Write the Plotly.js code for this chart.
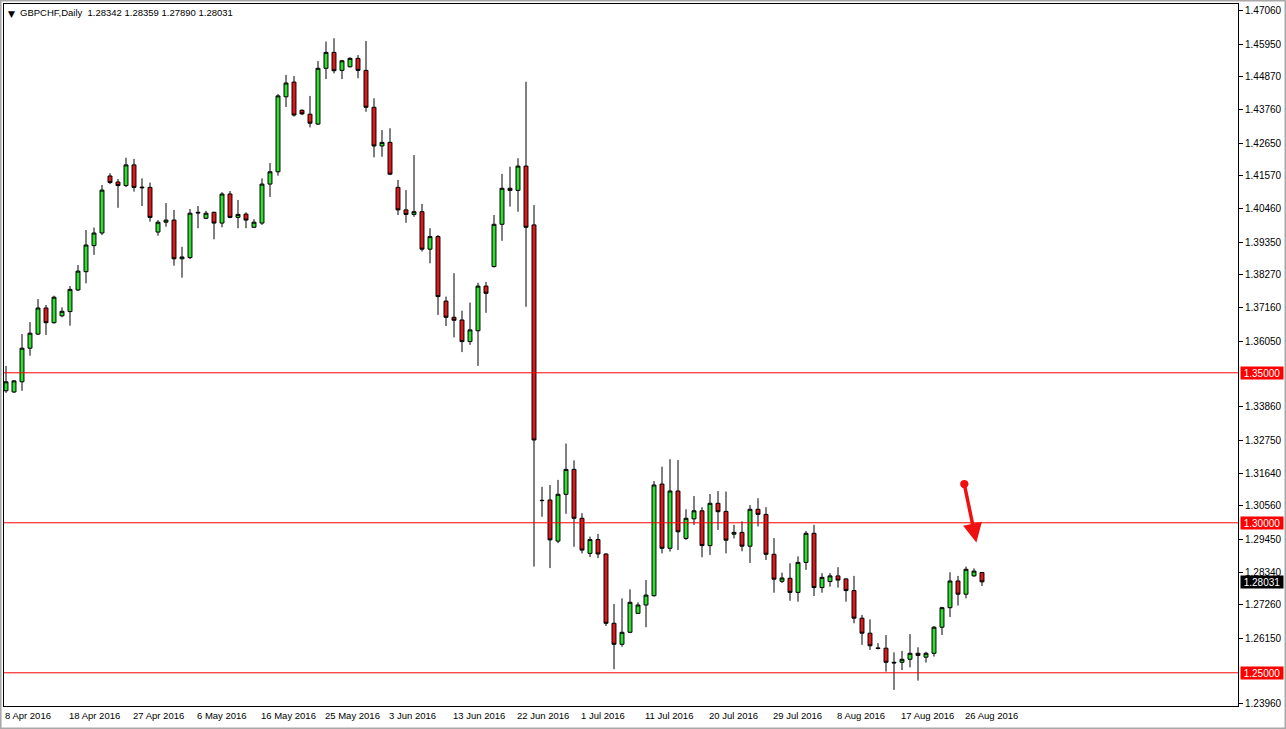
<!DOCTYPE html>
<html>
<head>
<meta charset="utf-8">
<script src="https://cdn.plot.ly/plotly-3.0.1.min.js"></script>
<style>
html,body{margin:0;padding:0;background:#ffffff;}
#chart{width:1286px;height:729px;}
</style>
</head>
<body>
<div id="chart"></div>
<script>
// ---- data (GBPCHF daily bars, 8 Apr 2016 - 29 Aug 2016, broker with Sunday bars) ----
const symbol = 'GBPCHF';
const period = 'Daily';
const firstBarDate = '2016-04-08';

const open = [
1.3440,1.3436,1.3470,1.3582,1.3629,1.3716,1.3667,1.3690,1.3704,1.3776,
1.3837,1.3924,1.3966,1.4156,1.4136,1.4124,1.4193,1.4119,1.4118,1.3969,
1.4002,1.4009,1.3880,1.3884,1.4035,1.4015,1.4035,1.3999,1.4096,1.4018,
1.4029,1.3985,1.3999,1.4129,1.4170,1.4420,1.4469,1.4375,1.4362,1.4329,
1.4515,1.4568,1.4508,1.4520,1.4548,1.4508,1.4385,1.4256,1.4268,1.4118,
1.4043,1.4028,1.4037,1.3912,1.3954,1.3739,1.3685,1.3676,1.3604,1.3640,
1.3789,1.3854,1.3995,1.4115,1.4108,1.4189,1.3993,1.3075,1.3076,1.2939,
1.3095,1.3178,1.3015,1.2898,1.2944,1.2896,1.2665,1.2595,1.2635,1.2698,
1.2726,1.2757,1.3129,1.2915,1.3106,1.2948,1.3013,1.3040,1.2924,1.3065,
1.3038,1.2962,1.2968,1.2922,1.3045,1.3028,1.2895,1.2805,1.2815,1.2768,
1.2868,1.2965,1.2784,1.2804,1.2823,1.2813,1.2774,1.2682,1.2632,1.2583,
1.2582,1.2535,1.2535,1.2545,1.2565,1.2552,1.2565,1.2652,1.2717,1.2806,
1.2762,1.2823,1.28342];

const high = [
1.3523,1.3476,1.3629,1.3669,1.3746,1.3726,1.3757,1.3718,1.3789,1.3859,
1.3976,1.3984,1.4126,1.4165,1.4146,1.4217,1.4213,1.4148,1.4134,1.4009,
1.4066,1.4043,1.3920,1.4046,1.4056,1.4040,1.4037,1.4102,1.4106,1.4076,
1.4035,1.4012,1.4148,1.4199,1.4429,1.4493,1.4489,1.4378,1.4423,1.4539,
1.4604,1.4615,1.4543,1.4552,1.4559,1.4606,1.4415,1.4309,1.4315,1.4143,
1.4109,1.4226,1.4063,1.3982,1.3959,1.3754,1.3832,1.3707,1.3734,1.3800,
1.3803,1.4026,1.4163,1.4187,1.4215,1.4470,1.4059,1.3120,1.3126,1.3143,
1.3264,1.3208,1.3032,1.2954,1.2963,1.2898,1.2729,1.2748,1.2778,1.2735,
1.2809,1.3139,1.3187,1.3212,1.3209,1.3045,1.3089,1.3052,1.3096,1.3106,
1.3104,1.2993,1.3005,1.3059,1.3082,1.3052,1.2949,1.2834,1.2865,1.2888,
1.2973,1.2993,1.2832,1.2832,1.2852,1.2814,1.2823,1.2693,1.2678,1.2599,
1.2626,1.2568,1.2573,1.2629,1.2585,1.2570,1.2656,1.2720,1.2835,1.2823,
1.2854,1.2848,1.28359];

const low = [
1.3433,1.3433,1.3440,1.3557,1.3626,1.3626,1.3664,1.3685,1.3657,1.3773,
1.3798,1.3893,1.3959,1.4129,1.4050,1.4119,1.4104,1.4056,1.4004,1.3957,
1.3987,1.3857,1.3817,1.3879,1.3982,1.4012,1.3945,1.3985,1.4015,1.3982,
1.3982,1.3983,1.3993,1.4086,1.4157,1.4386,1.4354,1.4359,1.4318,1.4326,
1.4479,1.4498,1.4479,1.4518,1.4482,1.4370,1.4218,1.4220,1.4159,1.4026,
1.4000,1.4020,1.3904,1.3865,1.3693,1.3656,1.3618,1.3569,1.3593,1.3523,
1.3700,1.3851,1.3940,1.4054,1.4037,1.3720,1.2854,1.3020,1.2849,1.2932,
1.3030,1.2920,1.2898,1.2886,1.2882,1.2656,1.2512,1.2587,1.2632,1.2696,
1.2652,1.2754,1.2898,1.2904,1.2909,1.2943,1.2993,1.2885,1.2893,1.2976,
1.2898,1.2948,1.2905,1.2866,1.2988,1.2876,1.2767,1.2799,1.2740,1.2737,
1.2843,1.2756,1.2767,1.2787,1.2784,1.2737,1.2665,1.2593,1.2576,1.2578,
1.2504,1.2443,1.2509,1.2518,1.2474,1.2534,1.2554,1.2626,1.2686,1.2724,
1.2748,1.2820,1.27890];

const close = [
1.3470,1.3473,1.3582,1.3632,1.3716,1.3667,1.3752,1.3705,1.3778,1.3839,
1.3926,1.3966,1.4109,1.4134,1.4124,1.4193,1.4118,1.4117,1.4018,1.4002,
1.4009,1.3880,1.3886,1.4032,1.4033,1.4032,1.3999,1.4096,1.4018,1.4028,
1.4009,1.4002,1.4129,1.4170,1.4423,1.4466,1.4359,1.4363,1.4332,1.4515,
1.4568,1.4507,1.4540,1.4548,1.4508,1.4385,1.4256,1.4268,1.4162,1.4043,
1.4028,1.4037,1.3912,1.3954,1.3754,1.3685,1.3675,1.3604,1.3643,1.3789,
1.3765,1.3995,1.4115,1.4108,1.4189,1.3985,1.3276,1.3074,1.2943,1.3095,
1.3178,1.3015,1.2909,1.2944,1.2896,1.2665,1.2595,1.2635,1.2735,1.2726,
1.2759,1.3126,1.2915,1.3106,1.2970,1.3015,1.3040,1.2924,1.3065,1.3037,
1.2942,1.2968,1.2922,1.3045,1.3028,1.2895,1.2812,1.2816,1.2768,1.2868,
1.2965,1.2784,1.2818,1.2823,1.2809,1.2774,1.2682,1.2632,1.2590,1.2581,
1.2535,1.2533,1.2545,1.2565,1.2558,1.2565,1.2652,1.2717,1.2806,1.2762,
1.2845,1.2839,1.28031];

// dates shown under the time axis
const labelDates = ['2016-04-08','2016-04-18','2016-04-27','2016-05-06','2016-05-16','2016-05-25',
  '2016-06-03','2016-06-13','2016-06-22','2016-07-01','2016-07-11','2016-07-20','2016-07-29',
  '2016-08-08','2016-08-17','2016-08-26'];

// price scale labels
const priceTicks = [1.47060,1.45950,1.44870,1.43760,1.42650,1.41570,1.40460,1.39350,1.38270,
  1.37160,1.36050,1.33860,1.32750,1.31640,1.30560,1.29450,1.28340,1.27260,1.26150,1.23960];

// horizontal support / resistance levels
const levels = [1.35000, 1.30000, 1.25000];

// ---- build ----
const dates = [];
(function(){
  const p = firstBarDate.split('-').map(Number);
  const d = new Date(Date.UTC(p[0], p[1]-1, p[2]));
  while (dates.length < open.length) {
    if (d.getUTCDay() !== 6) dates.push(d.toISOString().slice(0,10));
    d.setUTCDate(d.getUTCDate()+1);
  }
})();
const months = ['Jan','Feb','Mar','Apr','May','Jun','Jul','Aug','Sep','Oct','Nov','Dec'];
function fmtDate(s){ const a = s.split('-'); return (+a[2]) + ' ' + months[+a[1]-1] + ' ' + a[0]; }

const FONT = 'Liberation Sans, Arial, sans-serif';
const GREEN = '#2ee02e';
const RED = '#e01818';
const last = open.length - 1;

const trace = {
  type: 'candlestick',
  x: dates, open: open, high: high, low: low, close: close,
  increasing: {line: {color: '#000000', width: 1}, fillcolor: GREEN},
  decreasing: {line: {color: '#000000', width: 1}, fillcolor: RED},
  whiskerwidth: 0,
  hoverinfo: 'none',
  showlegend: false
};

const annotations = [];
labelDates.forEach(function(d){
  annotations.push({
    x: d, xref: 'x', y: 0, yref: 'paper', xanchor: 'left', yanchor: 'top',
    xshift: -3, yshift: -2, showarrow: false, text: fmtDate(d),
    font: {family: FONT, size: 9.5, color: '#000000'}
  });
});
levels.forEach(function(v){
  annotations.push({
    x: 1, xref: 'paper', y: v, yref: 'y', xanchor: 'left', yanchor: 'middle',
    xshift: 2, showarrow: false, text: v.toFixed(5), bgcolor: '#ff0000',
    width: 41, height: 11, borderpad: 0.5,
    font: {family: FONT, size: 10, color: '#ffffff'}
  });
});
annotations.push({
  x: 1, xref: 'paper', y: close[last], yref: 'y', xanchor: 'left', yanchor: 'middle',
  xshift: 2, showarrow: false, text: close[last].toFixed(5), bgcolor: '#000000',
  width: 41, height: 11, borderpad: 0.5,
  font: {family: FONT, size: 10, color: '#ffffff'}
});
// header
annotations.push({
  x: 0, xref: 'paper', y: 1, yref: 'paper', xanchor: 'left', yanchor: 'top',
  xshift: 2, yshift: -3, showarrow: false, text: '▼',
  font: {family: 'DejaVu Sans, sans-serif', size: 9, color: '#000000'}
});
annotations.push({
  x: 0, xref: 'paper', y: 1, yref: 'paper', xanchor: 'left', yanchor: 'top',
  xshift: 14, yshift: -1, showarrow: false,
  text: symbol + ',' + period + '  ' + open[last].toFixed(5) + ' ' + high[last].toFixed(5) + ' ' +
        low[last].toFixed(5) + ' ' + close[last].toFixed(5),
  font: {family: FONT, size: 9.5, color: '#000000'}
});
// drawn arrow
annotations.push({
  x: 121.3, y: 1.2934, xref: 'x', yref: 'y',
  ax: 119.75, ay: 1.3134, axref: 'x', ayref: 'y',
  text: '', showarrow: true, arrowhead: 2, arrowsize: 1.1, arrowwidth: 3.5,
  arrowcolor: '#ee1111', arrowside: 'end+start', startarrowhead: 6, startarrowsize: 0.6
});

const shapes = levels.map(function(v){
  return {type: 'line', xref: 'paper', x0: 0, x1: 1, yref: 'y', y0: v, y1: v,
          line: {color: '#ff0000', width: 1}, layer: 'above'};
});
// window frame
shapes.push({type: 'rect', xref: 'paper', yref: 'paper',
  x0: -0.0028, x1: 1.0385, y0: -0.0320, y1: 1.0050,
  line: {color: '#a8a8a8', width: 2}, fillcolor: 'rgba(0,0,0,0)', layer: 'below'});

const layout = {
  width: 1286, height: 729,
  margin: {l: 4, r: 48, t: 4, b: 23, pad: 0},
  paper_bgcolor: '#ffffff', plot_bgcolor: '#ffffff',
  showlegend: false,
  boxgap: 0.3,
  font: {family: FONT, size: 10, color: '#000000'},
  xaxis: {
    type: 'category', range: [-0.25, 154], fixedrange: true,
    rangeslider: {visible: false},
    showgrid: false, zeroline: false, showticklabels: false, ticks: '',
    showline: true, mirror: true, linecolor: '#000000', linewidth: 1
  },
  yaxis: {
    side: 'right', range: [1.23893, 1.47293], fixedrange: true,
    showgrid: false, zeroline: false,
    tickmode: 'array', tickvals: priceTicks, ticktext: priceTicks.map(function(v){return v.toFixed(5);}),
    ticks: 'outside', ticklen: 4, tickcolor: '#000000', tickwidth: 1,
    tickfont: {family: FONT, size: 10, color: '#000000'},
    showline: true, mirror: true, linecolor: '#000000', linewidth: 1
  },
  annotations: annotations,
  shapes: shapes
};

Plotly.newPlot('chart', [trace], layout, {displayModeBar: false, staticPlot: true});
</script>
</body>
</html>
